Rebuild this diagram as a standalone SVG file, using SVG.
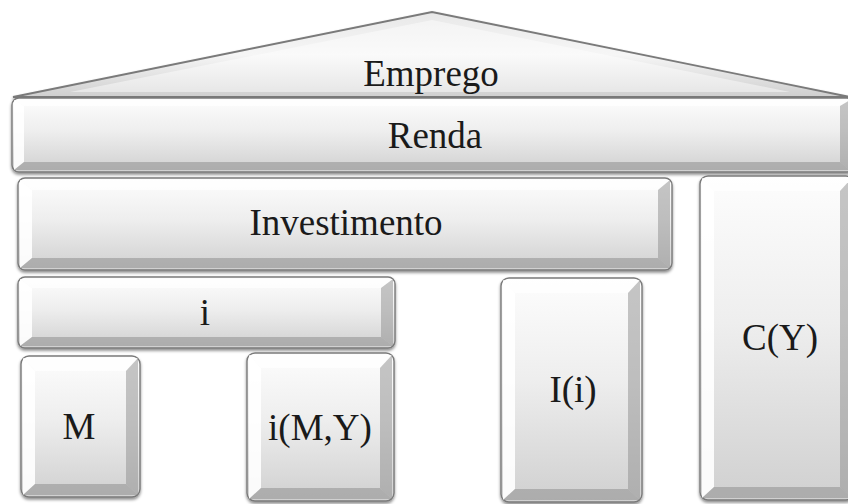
<svg xmlns="http://www.w3.org/2000/svg" width="848" height="504" viewBox="0 0 848 504">
<defs>
<linearGradient id="face" x1="0" y1="0" x2="0" y2="1">
<stop offset="0" stop-color="#fdfdfd"/>
<stop offset="0.45" stop-color="#eeeeee"/>
<stop offset="1" stop-color="#d0d0d0"/>
</linearGradient>
<linearGradient id="roof" x1="0" y1="0" x2="0" y2="1">
<stop offset="0" stop-color="#e8e8e8"/>
<stop offset="0.5" stop-color="#f6f6f6"/>
<stop offset="1" stop-color="#cfcfcf"/>
</linearGradient>
<filter id="sh" x="-10%" y="-10%" width="120%" height="130%">
<feDropShadow dx="0" dy="2" stdDeviation="1.8" flood-color="#000" flood-opacity="0.45"/>
</filter>
</defs>
<style>
.box{fill:url(#face);stroke:#7a7a7a;stroke-width:1.4;filter:url(#sh)}
.bl{fill:#ffffff;opacity:0.9}
.bt{fill:#ffffff;opacity:0.7}
.br{fill:#8e8e8e;opacity:0.5}
.bb{fill:#808080;opacity:0.45}
.roof{fill:url(#roof);stroke:#7a7a7a;stroke-width:1.8;filter:url(#sh)}
text{font-family:"Liberation Serif","Times New Roman",serif;font-size:37px;fill:#1a1a1a;text-anchor:middle}
</style>
<rect width="848" height="504" fill="#ffffff"/>
<g id="emprego">
<polygon class="roof" points="13,97 432,12 850,97"/>
<polygon points="70,92 432,20 790,92" fill="#ffffff" opacity="0.45"/>
<text x="431" y="86">Emprego</text>
</g>
<g id="renda">
<rect class="box" x="12" y="98" width="842" height="74" rx="7"/>
<polygon class="bt" points="14,100 850,100 840,106 24,106"/>
<polygon class="bl" points="14,100 24,106 24,162 14,170"/>
<polygon class="br" points="850,100 840,106 840,162 850,170"/>
<polygon class="bb" points="14,170 24,162 840,162 850,170"/>
<text x="435" y="148">Renda</text>
</g>
<g id="investimento">
<rect class="box" x="18" y="178" width="654" height="92" rx="7"/>
<polygon class="bt" points="20,180 670,180 658,190 32,190"/>
<polygon class="bl" points="20,180 32,190 32,258 20,268"/>
<polygon class="br" points="670,180 658,190 658,258 670,268"/>
<polygon class="bb" points="20,268 32,258 658,258 670,268"/>
<text x="346" y="235">Investimento</text>
</g>
<g id="i">
<rect class="box" x="18" y="277" width="377" height="71" rx="7"/>
<polygon class="bt" points="20,279 393,279 381,288 32,288"/>
<polygon class="bl" points="20,279 32,288 32,337 20,346"/>
<polygon class="br" points="393,279 381,288 381,337 393,346"/>
<polygon class="bb" points="20,346 32,337 381,337 393,346"/>
<text x="205" y="325">i</text>
</g>
<g id="m">
<rect class="box" x="21" y="356" width="119" height="141" rx="8"/>
<polygon class="bt" points="23,358 138,358 126,371 35,371"/>
<polygon class="bl" points="23,358 35,371 35,484 23,495"/>
<polygon class="br" points="138,358 126,371 126,484 138,495"/>
<polygon class="bb" points="23,495 35,484 126,484 138,495"/>
<text x="79" y="439">M</text>
</g>
<g id="imy">
<rect class="box" x="247" y="353" width="147" height="148" rx="8"/>
<polygon class="bt" points="249,355 392,355 380,368 261,368"/>
<polygon class="bl" points="249,355 261,368 261,488 249,499"/>
<polygon class="br" points="392,355 380,368 380,488 392,499"/>
<polygon class="bb" points="249,499 261,488 380,488 392,499"/>
<text x="320" y="440" font-size="41">i(M,Y)</text>
</g>
<g id="ii">
<rect class="box" x="501" y="278" width="141" height="224" rx="8"/>
<polygon class="bt" points="503,280 640,280 628,293 515,293"/>
<polygon class="bl" points="503,280 515,293 515,489 503,500"/>
<polygon class="br" points="640,280 628,293 628,489 640,500"/>
<polygon class="bb" points="503,500 515,489 628,489 640,500"/>
<text x="573" y="402">I(i)</text>
</g>
<g id="cy">
<rect class="box" x="700" y="176" width="154" height="324" rx="8"/>
<polygon class="bt" points="702,178 852,178 840,191 714,191"/>
<polygon class="bl" points="702,178 714,191 714,487 702,498"/>
<polygon class="br" points="852,178 840,191 840,487 852,498"/>
<polygon class="bb" points="702,498 714,487 840,487 852,498"/>
<text x="780" y="350">C(Y)</text>
</g>
<g id="connectors"/>
</svg>
